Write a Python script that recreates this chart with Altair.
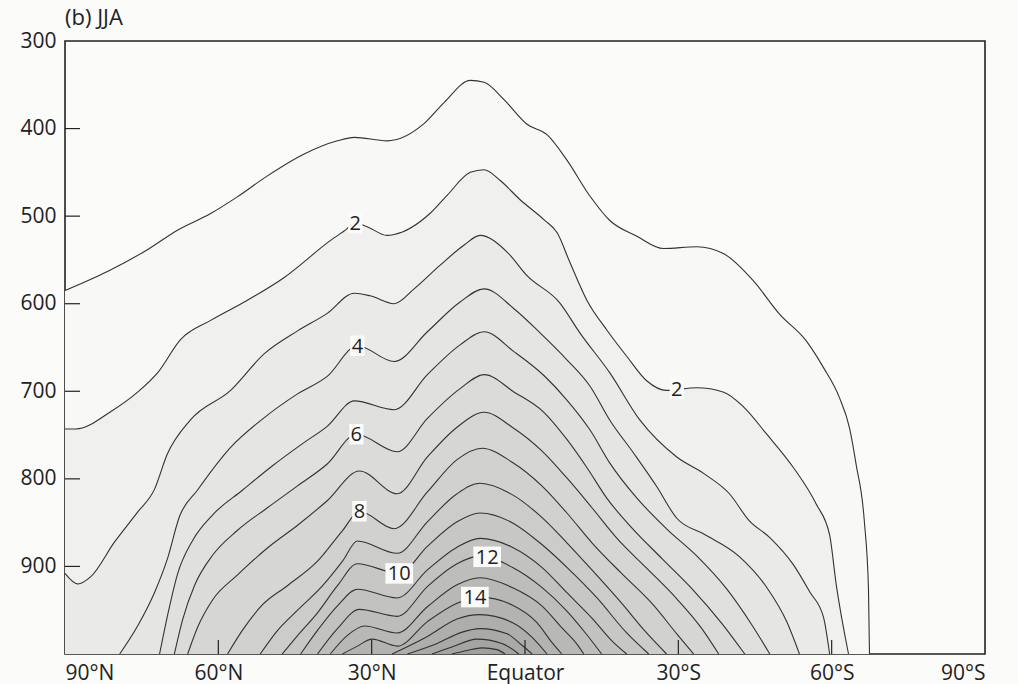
import altair as alt
import pandas as pd

# Specific humidity contours (g/kg), JJA zonal mean: latitude (deg, +N) and pressure (hPa)
C1_LAT = [90, 81.6, 73.8, 68.0, 61.5, 56.3, 50.4, 43.2, 36.7, 33.4, 27.0, 19.7, 15.8, 10.7, 8.0, 4.1, -0.4, -4.3, -8.2, -12.7, -16.6, -21.9, -27.1, -33.6, -38.9, -44.7, -49.8, -55.1, -58.4, -61.5, -63.5, -64.8, -66.4, -67.2, -67.4]
C1_P = [585, 563, 538, 516, 497, 478, 454, 429, 414, 410, 414, 394, 370, 345, 347, 367, 395, 407, 436, 477, 505, 523, 537, 535, 543, 574, 612, 643, 673, 707, 742, 784, 849, 925, 1000]

C2_LAT = [90, 87.9, 81.0, 75.8, 71.9, 67.4, 61.5, 54.3, 47.1, 38.1, 35.4, 33.2, 30.9, 27.0, 25.6, 18.6, 15.2, 10.7, 8.0, 4.9, 1.0, -3.7, -6.3, -8.8, -12.1, -16.0, -19.9, -23.8, -27.7, -33.6, -38.9, -42.8, -47.3, -52.5, -57.0, -59.6, -60.9, -63.3]
C2_P = [743, 743, 723, 701, 679, 641, 619, 596, 570, 528, 517, 508, 512, 522, 521, 497, 476, 450, 447, 459, 481, 504, 519, 553, 596, 630, 660, 688, 699, 696, 701, 718, 749, 787, 829, 864, 921, 1000]

C3_LAT = [90, 87.5, 85.0, 80.3, 75.8, 72.5, 70.0, 65.5, 57.6, 51.0, 44.5, 38.7, 33.4, 30.3, 25.6, 21.7, 16.6, 11.9, 8.8, 3.5, -0.4, -6.8, -10.7, -16.6, -22.5, -29.7, -35.0, -40.0, -43.9, -47.9, -52.5, -55.7, -58.4, -59.6]
C3_P = [908, 920, 912, 872, 838, 812, 772, 733, 699, 657, 631, 611, 588, 591, 600, 583, 556, 533, 522, 541, 568, 599, 633, 679, 733, 775, 794, 817, 848, 867, 898, 929, 958, 1000]

C4_LAT = [79.3, 75.8, 72.5, 70.0, 67.6, 64.1, 57.6, 51.0, 44.5, 38.7, 32.8, 25.6, 19.1, 12.7, 8.0, 2.1, -2.9, -8.2, -12.7, -16.6, -21.3, -25.8, -29.7, -35.0, -42.0, -47.3, -51.2, -53.7]
C4_P = [1000, 968, 930, 892, 843, 813, 764, 730, 703, 683, 648, 666, 632, 598, 583, 606, 633, 664, 694, 733, 771, 809, 845, 863, 889, 924, 963, 1000]

C5_LAT = [71.5, 69.9, 68.0, 65.0, 61.1, 55.3, 49.4, 43.6, 38.7, 33.4, 25.6, 19.1, 12.7, 8.0, 2.1, -3.7, -8.2, -12.7, -16.6, -21.9, -27.7, -33.6, -39.5, -44.3, -47.9]
C5_P = [1000, 955, 909, 870, 841, 813, 785, 760, 740, 711, 721, 681, 647, 632, 655, 682, 710, 744, 782, 822, 857, 888, 926, 966, 1000]

C6_LAT = [68.6, 67.0, 64.6, 61.1, 56.3, 50.4, 44.5, 38.7, 33.0, 25.0, 19.1, 12.7, 8.0, 2.1, -3.7, -8.2, -12.1, -16.0, -20.9, -26.8, -32.6, -38.5, -43.0]
C6_P = [1000, 961, 921, 887, 859, 833, 808, 783, 749, 769, 731, 697, 681, 701, 724, 755, 787, 822, 856, 891, 925, 965, 1000]

C7_LAT = [66.0, 64.1, 61.1, 56.3, 50.4, 44.5, 38.7, 32.4, 25.0, 19.1, 13.3, 8.0, 2.5, -3.3, -8.2, -13.1, -18.0, -23.8, -29.7, -34.6, -37.9]
C7_P = [1000, 970, 938, 910, 879, 853, 825, 791, 817, 775, 741, 724, 741, 768, 799, 833, 868, 902, 937, 971, 1000]

C8_LAT = [58.2, 55.3, 51.4, 46.5, 40.6, 35.7, 32.4, 25.6, 19.1, 13.3, 8.4, 2.5, -3.3, -8.2, -13.1, -18.9, -24.8, -29.7, -33.0]
C8_P = [1000, 973, 944, 922, 894, 859, 837, 857, 815, 778, 765, 781, 808, 839, 873, 908, 942, 977, 1000]

C9_LAT = [51.8, 48.4, 44.5, 39.6, 35.7, 32.8, 25.0, 19.1, 13.3, 8.8, 2.5, -3.3, -8.2, -13.1, -18.9, -23.8, -27.7]
C9_P = [1000, 973, 950, 922, 894, 871, 885, 849, 817, 805, 818, 844, 873, 904, 942, 976, 1000]

C10_LAT = [47.5, 44.5, 40.6, 36.7, 32.8, 24.6, 19.1, 13.3, 8.8, 2.5, -3.3, -8.2, -14.1, -19.9, -24.2]
C10_P = [1000, 979, 953, 922, 897, 908, 877, 849, 839, 850, 875, 901, 936, 976, 1000]

C11_LAT = [43.9, 40.6, 36.7, 32.8, 25.0, 19.1, 13.3, 8.8, 2.5, -3.3, -8.2, -13.1, -17.0, -19.9]
C11_P = [1000, 973, 945, 926, 936, 904, 878, 868, 878, 901, 930, 959, 985, 1000]

C12_LAT = [40.6, 36.7, 32.4, 25.0, 19.1, 13.3, 8.8, 2.5, -3.3, -8.2, -12.1, -15.0]
C12_P = [1000, 971, 949, 957, 923, 897, 888, 901, 924, 951, 978, 1000]

C13_LAT = [38.1, 34.8, 31.4, 25.0, 19.1, 13.3, 8.8, 2.5, -3.3, -7.2, -10.2, -11.5]
C13_P = [1000, 979, 968, 976, 946, 921, 913, 924, 945, 970, 989, 1000]

C14_LAT = [35.7, 32.8, 29.9, 25.0, 19.1, 13.3, 8.8, 2.5, -2.3, -5.3, -7.2]
C14_P = [1000, 991, 983, 991, 963, 942, 935, 944, 964, 987, 1000]

C15_LAT = [26.0, 19.1, 13.3, 8.8, 2.5, -1.4, -4.3]
C15_P = [1000, 980, 960, 955, 964, 981, 1000]

C16_LAT = [23.0, 17.2, 12.3, 8.8, 3.5, 0.6, -1.4]
C16_P = [1000, 988, 975, 971, 977, 990, 1000]

C17_LAT = [18.2, 14.3, 9.4, 4.5, 1.2]
C17_P = [1000, 992, 983, 988, 1000]

C18_LAT = [14.3, 11.3, 8.4, 5.5, 3.9]
C18_P = [1000, 996, 993, 995, 1000]

CONTOURS = [
    (C1_LAT, C1_P), (C2_LAT, C2_P), (C3_LAT, C3_P), (C4_LAT, C4_P),
    (C5_LAT, C5_P), (C6_LAT, C6_P), (C7_LAT, C7_P), (C8_LAT, C8_P),
    (C9_LAT, C9_P), (C10_LAT, C10_P), (C11_LAT, C11_P), (C12_LAT, C12_P),
    (C13_LAT, C13_P), (C14_LAT, C14_P), (C15_LAT, C15_P), (C16_LAT, C16_P),
    (C17_LAT, C17_P), (C18_LAT, C18_P),
]

# Contour labels
LABEL_TEXT = ["2", "2", "4", "6", "8", "10", "12", "14"]
LABEL_LAT = [33.2, -29.7, 32.8, 33.0, 32.4, 24.6, 7.4, 9.8]
LABEL_P = [508, 697, 648, 749, 837, 908, 889, 935]

# Axis ticks
X_TICKS = [90, 60, 30, 0, -30, -60, -90]
Y_TICKS = [300, 400, 500, 600, 700, 800, 900]
X_INNER_TICKS = [60, 30, 0, -30, -60]
Y_INNER_TICKS = [400, 500, 600, 700, 800, 900]

# grey fill for each level (styling)
SHADES = [248, 240, 234, 229, 224, 219, 214, 209, 204, 199, 194, 189, 184, 179, 174, 169, 164, 159]

FONT = "Open Sans"
INK = "#222222"
BG = "#fbfbf9"
W, H = 920, 613

rows = []
for k, (lats, ps) in enumerate(CONTOURS, start=1):
    for i, (la, pp) in enumerate(zip(lats, ps)):
        rows.append({"level": k, "i": i, "lat": la, "p": pp})
df = pd.DataFrame(rows)

xscale = alt.Scale(domain=[-90, 90], reverse=True, nice=False, zero=False)
yscale = alt.Scale(domain=[300, 1000], reverse=True, nice=False, zero=False)

X = alt.X(
    "lat:Q", scale=xscale, title=None,
    axis=alt.Axis(
        values=X_TICKS, tickSize=0, domain=False, grid=False, labelPadding=8,
        labelFont=FONT, labelFontSize=21, labelColor=INK,
        labelExpr="datum.value == 0 ? 'Equator' : (datum.value > 0 ? datum.value + '°N' : (-datum.value) + '°S')",
    ),
)
Y = alt.Y(
    "p:Q", scale=yscale, title=None,
    axis=alt.Axis(
        values=Y_TICKS, tickSize=0, domain=False, grid=False, labelPadding=9,
        labelFont=FONT, labelFontSize=21, labelColor=INK,
    ),
)

layers = []
for k in range(1, len(CONTOURS) + 1):
    g = SHADES[k - 1]
    col = f"rgb({g},{g},{g - 2})"
    sub = df[df.level == k]
    layers.append(
        alt.Chart(sub).mark_area(color=col, opacity=1, interpolate="monotone")
        .encode(x=X, y=Y, y2=alt.datum(1000))
    )

lines = alt.Chart(df).mark_line(color="#333333", strokeWidth=1.1, interpolate="monotone").encode(
    x=X, y=Y, detail="level:N", order="i:Q"
)
layers.append(lines)

lab_df = pd.DataFrame({
    "text": LABEL_TEXT, "lat": LABEL_LAT, "p": LABEL_P,
    "shape": ["M-0.7,-1H0.7V1H-0.7Z" if len(t) == 1 else "M-1.35,-1H1.35V1H-1.35Z" for t in LABEL_TEXT],
})
boxes = alt.Chart(lab_df).mark_point(filled=True, color=BG, opacity=1, size=420, strokeWidth=0).encode(
    x=X, y=Y, shape=alt.Shape("shape:N", scale=None)
)
texts = alt.Chart(lab_df).mark_text(font=FONT, fontSize=20, color=INK, baseline="middle", align="center", dy=1).encode(
    x=X, y=Y, text="text:N"
)
layers += [boxes, texts]

xt = alt.Chart(pd.DataFrame({"lat": X_INNER_TICKS})).mark_rule(color=INK, strokeWidth=1.2).encode(
    x=X, y=alt.value(H), y2=alt.value(H - 14)
)
yt = alt.Chart(pd.DataFrame({"p": Y_INNER_TICKS})).mark_rule(color=INK, strokeWidth=1.2).encode(
    y=Y, x=alt.value(0), x2=alt.value(15)
)
layers += [xt, yt]

chart = alt.layer(*layers).properties(
    width=W, height=H,
    autosize=alt.AutoSizeParams(type="none"),
    padding={"left": 65, "top": 41, "right": 33, "bottom": 30},
    background=BG,
    title=alt.TitleParams("(b) JJA", anchor="start", frame="group", font=FONT, fontSize=22,
                          fontWeight="normal", color=INK, offset=0),
).configure_view(stroke=INK, strokeWidth=1.6)

chart.save("out.html", embed_options={"renderer": "svg", "actions": False})
